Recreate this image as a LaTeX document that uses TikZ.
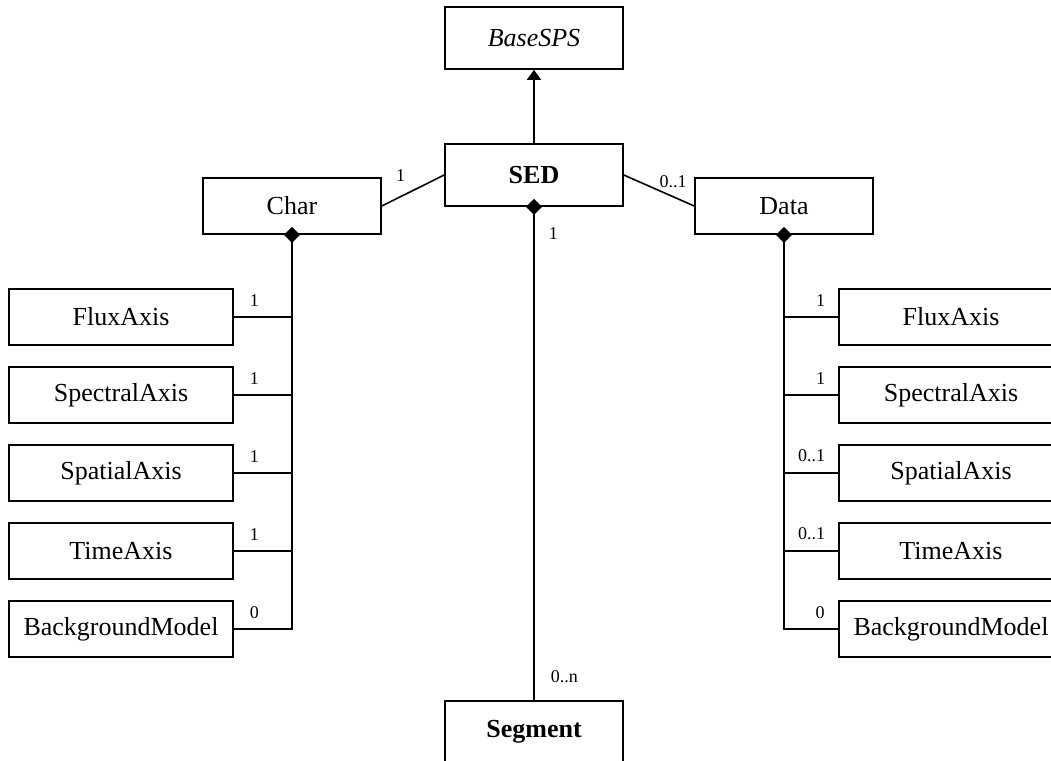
\documentclass[tikz,border=0pt]{standalone}
\usepackage{fontspec}
\setmainfont{Liberation Serif}
\usetikzlibrary{arrows.meta,calc}
\tikzset{
  cls/.style={draw, rectangle, line width=0.8pt, minimum width=89pt, minimum height=28pt, inner sep=2pt, font=\fontsize{13}{15}\selectfont},
  axbox/.style={cls, minimum width=112pt},
  lbl/.style={font=\fontsize{9}{11}\selectfont, inner sep=1pt},
  link/.style={line width=0.8pt},
  comp/.style={link, {Diamond[length=8pt,width=8pt]}-, shorten <=-4pt},
  inherit/.style={link, -{Triangle[length=5pt,width=7pt]}}
}
\begin{document}
\begin{tikzpicture}[x=0.5pt, y=-0.5pt]

\useasboundingbox (0,0) rectangle (1051,761);
\clip (0,0) rectangle (1051,761);

% Centre column
\node (base) at (534,38) [cls, minimum height=31pt, font=\fontsize{13}{15}\selectfont\itshape] {BaseSPS};
\node (sed) at (534,175) [cls, minimum height=31pt, font=\fontsize{13}{15}\selectfont\bfseries] {SED};
\node (seg) at (534,732) [cls, minimum height=31pt, font=\fontsize{13}{15}\selectfont\bfseries] {Segment};

% Characterisation and data
\node (char) at (292,206) [cls] {Char};
\node (data) at (784,206) [cls] {Data};

% Left column
\node (flxl) at (121,317) [axbox] {FluxAxis};
\node (spcl) at (121,395) [axbox] {SpectralAxis};
\node (spal) at (121,473) [axbox] {SpatialAxis};
\node (timl) at (121,551) [axbox] {TimeAxis};
\node (bgl) at (121,629) [axbox] {BackgroundModel};

% Right column
\node (flxr) at (951,317) [axbox] {FluxAxis};
\node (spcr) at (951,395) [axbox] {SpectralAxis};
\node (spar) at (951,473) [axbox] {SpatialAxis};
\node (timr) at (951,551) [axbox] {TimeAxis};
\node (bgr) at (951,629) [axbox] {BackgroundModel};

% Links from SED
\draw[inherit] (sed.north) -- (base.south);
\draw[link] (char.east) -- node[lbl, pos=0.3, anchor=south, yshift=6pt] {1} (sed.west);
\draw[link] (sed.east) -- node[lbl, pos=0.7, anchor=south, yshift=3pt] {0..1} (data.west);
\draw[comp] (sed.south) -- node[lbl, pos=0.055, anchor=west, xshift=6pt] {1}
  node[lbl, pos=0.953, anchor=west, xshift=7pt] {0..n} (seg.north);

% Char branches
\draw[comp] (char.south) -- (char.south |- bgl.east) -- node[lbl, pos=0.77, anchor=south west, yshift=4pt] {0} (bgl.east);
\draw[link] (flxl.east) -- node[lbl, pos=0.23, anchor=south west, yshift=4pt] {1} (flxl.east -| char.south);
\draw[link] (spcl.east) -- node[lbl, pos=0.23, anchor=south west, yshift=4pt] {1} (spcl.east -| char.south);
\draw[link] (spal.east) -- node[lbl, pos=0.23, anchor=south west, yshift=4pt] {1} (spal.east -| char.south);
\draw[link] (timl.east) -- node[lbl, pos=0.23, anchor=south west, yshift=4pt] {1} (timl.east -| char.south);

% Data branches
\draw[comp] (data.south) -- (data.south |- bgr.west) -- node[lbl, pos=0.8, anchor=south east, yshift=4pt] {0} (bgr.west);
\draw[link] (flxr.west) -- node[lbl, pos=0.19, anchor=south east, yshift=4pt] {1} (flxr.west -| data.south);
\draw[link] (spcr.west) -- node[lbl, pos=0.19, anchor=south east, yshift=4pt] {1} (spcr.west -| data.south);
\draw[link] (spar.west) -- node[lbl, pos=0.19, anchor=south east, yshift=4pt] {0..1} (spar.west -| data.south);
\draw[link] (timr.west) -- node[lbl, pos=0.19, anchor=south east, yshift=4pt] {0..1} (timr.west -| data.south);

\end{tikzpicture}
\end{document}
